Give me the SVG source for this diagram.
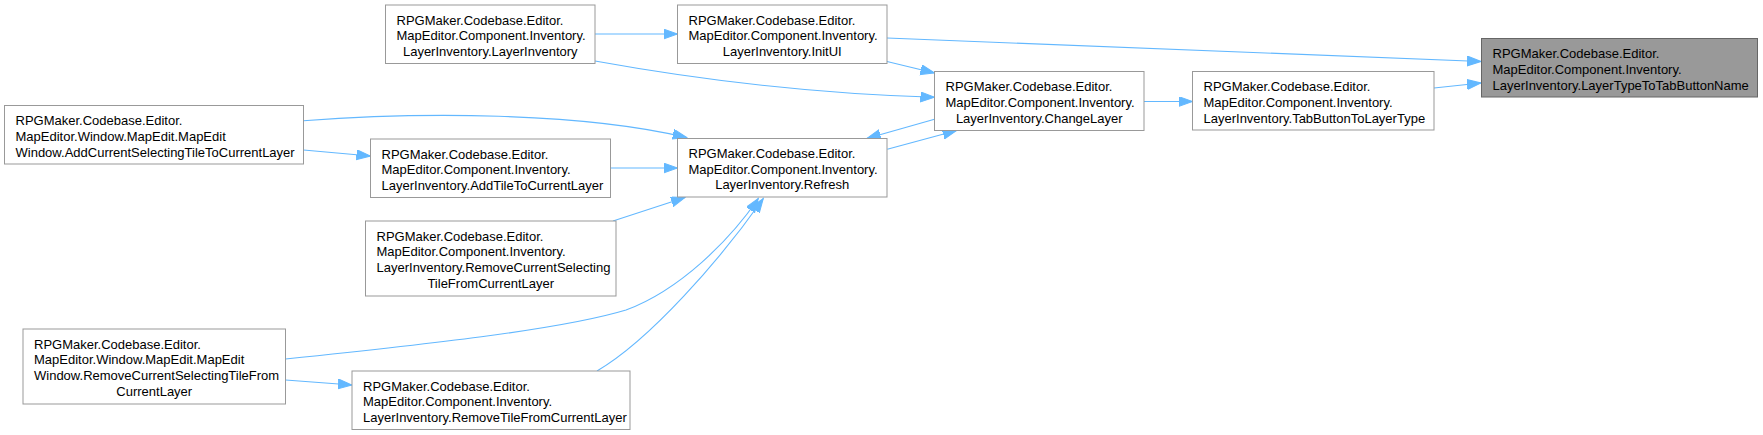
<svg xmlns="http://www.w3.org/2000/svg" width="1763" height="435" viewBox="0 0 1763 435">
<style>
.n rect{fill:#ffffff;stroke:#999999;stroke-width:1}
.n.sel rect{fill:#999999;stroke:#666666}
.n text{font-family:"Liberation Sans",Arial,sans-serif;font-size:13px;fill:#000000}
.c{text-anchor:middle}
.e path{fill:none;stroke:#63b8ff;stroke-width:1.1;marker-end:url(#ah)}
</style>
<defs>
<marker id="ah" markerUnits="userSpaceOnUse" markerWidth="15" markerHeight="11" refX="14" refY="5" orient="auto">
<path d="M0,0 L14,5 L0,10 z" fill="#63b8ff" stroke="#63b8ff" stroke-width="1"/>
</marker>
</defs>
<rect width="1763" height="435" fill="#ffffff"/>
<g id="edges" class="e">
<path d="M887,38 L1481,61.5"/>
<path d="M1434,88 L1481,83"/>
<path d="M1144,101.5 L1192.5,101.5"/>
<path d="M595,34 L677.5,34"/>
<path d="M595,61 C700,80 820,94 934.5,97.3"/>
<path d="M887,61.5 L934.5,73"/>
<path d="M934.5,119.3 L866.7,138.5"/>
<path d="M887.3,149.3 L956.7,130.5"/>
<path d="M303.5,120.7 C420,112 580,112 686.7,137.5"/>
<path d="M303.5,150 L370.5,156"/>
<path d="M610.5,168 L677.5,168"/>
<path d="M613,221 L685,197.5"/>
<path d="M285.5,359 C420,345 560,330 626,310 C680,290 730,240 758.3,198.5"/>
<path d="M597,371 C650,340 720,260 763.3,198.5"/>
<path d="M285.5,380 L352,385"/>
</g>
<g id="nodeA" class="n sel">
<rect x="1481.5" y="38.5" width="276" height="58.5"/>
<text x="1492.5" y="58">RPGMaker.Codebase.Editor.</text>
<text x="1492.5" y="73.8">MapEditor.Component.Inventory.</text>
<text x="1492.5" y="89.6">LayerInventory.LayerTypeToTabButtonName</text>
</g>
<g id="nodeB" class="n">
<rect x="1192.5" y="71.5" width="241.5" height="58.5"/>
<text x="1203.5" y="91">RPGMaker.Codebase.Editor.</text>
<text x="1203.5" y="106.8">MapEditor.Component.Inventory.</text>
<text x="1203.5" y="122.6">LayerInventory.TabButtonToLayerType</text>
</g>
<g id="nodeC" class="n">
<rect x="934.5" y="71.5" width="209.5" height="59"/>
<text x="945.5" y="91">RPGMaker.Codebase.Editor.</text>
<text x="945.5" y="106.8">MapEditor.Component.Inventory.</text>
<text class="c" x="1039.25" y="122.6">LayerInventory.ChangeLayer</text>
</g>
<g id="nodeD" class="n">
<rect x="677.5" y="5" width="209.5" height="58.5"/>
<text x="688.5" y="24.5">RPGMaker.Codebase.Editor.</text>
<text x="688.5" y="40.3">MapEditor.Component.Inventory.</text>
<text class="c" x="782.25" y="56.1">LayerInventory.InitUI</text>
</g>
<g id="nodeE" class="n">
<rect x="385.5" y="5" width="209.5" height="58.5"/>
<text x="396.5" y="24.5">RPGMaker.Codebase.Editor.</text>
<text x="396.5" y="40.3">MapEditor.Component.Inventory.</text>
<text class="c" x="490.25" y="56.1">LayerInventory.LayerInventory</text>
</g>
<g id="nodeF" class="n">
<rect x="677.5" y="138.5" width="209.5" height="58.5"/>
<text x="688.5" y="157.8">RPGMaker.Codebase.Editor.</text>
<text x="688.5" y="173.6">MapEditor.Component.Inventory.</text>
<text class="c" x="782.25" y="189.4">LayerInventory.Refresh</text>
</g>
<g id="nodeG" class="n">
<rect x="4.5" y="105.5" width="299" height="58.5"/>
<text x="15.5" y="125">RPGMaker.Codebase.Editor.</text>
<text x="15.5" y="140.8">MapEditor.Window.MapEdit.MapEdit</text>
<text x="15.5" y="156.6">Window.AddCurrentSelectingTileToCurrentLayer</text>
</g>
<g id="nodeH" class="n">
<rect x="370.5" y="139" width="240" height="58.5"/>
<text x="381.5" y="158.5">RPGMaker.Codebase.Editor.</text>
<text x="381.5" y="174.3">MapEditor.Component.Inventory.</text>
<text x="381.5" y="190.1">LayerInventory.AddTileToCurrentLayer</text>
</g>
<g id="nodeI" class="n">
<rect x="365.5" y="221" width="250.5" height="75"/>
<text x="376.5" y="240.5">RPGMaker.Codebase.Editor.</text>
<text x="376.5" y="256.3">MapEditor.Component.Inventory.</text>
<text x="376.5" y="272.1">LayerInventory.RemoveCurrentSelecting</text>
<text class="c" x="490.75" y="287.9">TileFromCurrentLayer</text>
</g>
<g id="nodeJ" class="n">
<rect x="23" y="329" width="262.5" height="75"/>
<text x="34" y="348.5">RPGMaker.Codebase.Editor.</text>
<text x="34" y="364.3">MapEditor.Window.MapEdit.MapEdit</text>
<text x="34" y="380.1">Window.RemoveCurrentSelectingTileFrom</text>
<text class="c" x="154.25" y="395.9">CurrentLayer</text>
</g>
<g id="nodeK" class="n">
<rect x="352" y="371" width="278" height="58.5"/>
<text x="363" y="390.5">RPGMaker.Codebase.Editor.</text>
<text x="363" y="406.3">MapEditor.Component.Inventory.</text>
<text x="363" y="422.1">LayerInventory.RemoveTileFromCurrentLayer</text>
</g>
</svg>
